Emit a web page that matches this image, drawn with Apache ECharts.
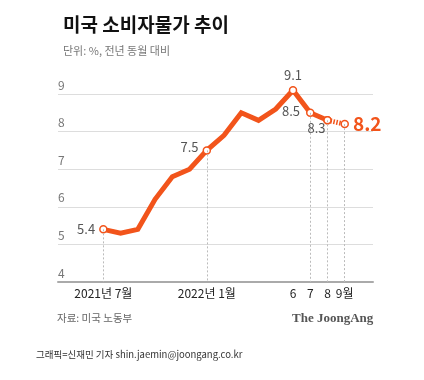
<!DOCTYPE html>
<html><head><meta charset="utf-8">
<script src="https://cdn.jsdelivr.net/npm/echarts@6/dist/echarts.min.js"></script>
<style>html,body{margin:0;padding:0;background:#fff}#c{width:424px;height:380px}</style>
</head><body><div id="c"></div>
<script>
const months = ['2021-07','2021-08','2021-09','2021-10','2021-11','2021-12','2022-01','2022-02','2022-03','2022-04','2022-05','2022-06','2022-07','2022-08','2022-09'];
const cpi = [5.4, 5.3, 5.4, 6.2, 6.8, 7.0, 7.5, 7.9, 8.5, 8.3, 8.6, 9.1, 8.5, 8.3, 8.2];
const tickIdx = [0, 6, 11, 12, 13, 14];
const tickLabels = ['2021년 7월', '2022년 1월', '6', '7', '8', '9월'];
const yTicks = [4, 5, 6, 7, 8, 9];

const ORANGE = '#f2541b';
const FONT = '"Noto Sans CJK KR", "Noto Sans", sans-serif';

const labelCfg = {
  0: {show:true, position:'left', distance:4, color:'#555', fontSize:13},
  6: {show:true, position:'left', distance:4, offset:[0,-3], color:'#555', fontSize:13},
  11: {show:true, position:'top', distance:4, color:'#555', fontSize:13},
  12: {show:true, position:'left', distance:6, offset:[0,-2], color:'#555', fontSize:13},
  13: {show:true, position:'bottom', distance:0, offset:[-11,-3], color:'#555', fontSize:13},
  14: {show:true, position:'right', distance:4, color:ORANGE, fontSize:19, fontWeight:'bold'}
};
const markIdx = [0, 6, 11, 12, 13, 14];

function pt(i) {
  const d = {value:[i, cpi[i]]};
  if (markIdx.includes(i)) {
    d.symbol = 'circle';
    d.symbolSize = 7;
    if (labelCfg[i]) d.label = Object.assign({fontFamily:FONT, formatter: p => p.value[1].toFixed(1)}, labelCfg[i]);
  } else {
    d.symbol = 'none';
  }
  return d;
}

const mainData = [];
for (let i = 0; i <= 13; i++) { const d = pt(i); if (i === 13) { d.label = {show:false}; } mainData.push(d); }
const dashData = [{value:[13, cpi[13]], symbol:'circle', symbolSize:7, label:Object.assign({fontFamily:FONT, formatter: p=>p.value[1].toFixed(1)}, labelCfg[13])}, pt(14)];

const dropLines = markIdx.map(i => [{coord:[i, cpi[i]]}, {coord:[i, 4]}]);

const chart = echarts.init(document.getElementById('c'), null, {renderer:'canvas'});
chart.setOption({
  animation:false,
  textStyle:{fontFamily:FONT},
  title:{
    text:'미국 소비자물가 추이', left:58, top:10,
    textStyle:{fontSize:19, fontWeight:'bold', color:'#111', fontFamily:FONT},
    subtext:'단위: %, 전년 동월 대비', itemGap:11,
    subtextStyle:{fontSize:11, color:'#777', fontFamily:FONT}
  },
  grid:{left:58, right:51, top:94, bottom:98, containLabel:false},
  xAxis:{
    type:'value', min:-2.63, max:15.64,
    splitLine:{show:false},
    axisLine:{show:true, lineStyle:{color:'#aaa', width:2}},
    axisTick:{show:false},
    axisLabel:{
      customValues:tickIdx, margin:5, color:'#222', fontSize:12, fontFamily:FONT,
      formatter: v => { const k = tickIdx.indexOf(Math.round(v)); return k >= 0 ? tickLabels[k] : ''; }
    }
  },
  yAxis:{
    type:'value', min:4, max:9, interval:1,
    axisLine:{show:false}, axisTick:{show:false},
    splitLine:{show:true, lineStyle:{color:'#ddd', width:1}},
    axisLabel:{
      inside:true, verticalAlign:'bottom', align:'left', margin:0, padding:[0,0,3,0],
      color:'#777', fontSize:12, fontFamily:FONT,
      customValues:yTicks,
      formatter: v => String(v)
    }
  },
  series:[
    {
      type:'line', data:[], z:1, silent:true,
      markLine:{silent:true, symbol:['none','none'], label:{show:false},
        lineStyle:{type:[2,2], color:'#bbb', width:1}, data:dropLines}
    },
    {
      type:'line', data:mainData, z:3, clip:false, showAllSymbol:true,
      lineStyle:{color:ORANGE, width:5, join:'miter'},
      itemStyle:{color:'#fff', borderColor:ORANGE, borderWidth:1.5},
      emphasis:{disabled:true}
    },
    {
      type:'line', data:dashData, z:4, clip:false, showAllSymbol:true,
      lineStyle:{color:ORANGE, width:5, type:[1.5,1.5]},
      itemStyle:{color:'#fff', borderColor:ORANGE, borderWidth:1.5},
      emphasis:{disabled:true}
    }
  ],
  graphic:[
    {type:'text', left:57, top:313, style:{text:'자료: 미국 노동부', fill:'#666', font:'10.5px '+FONT}},
    {type:'text', left:292, top:312, style:{text:'The JoongAng', fill:'#555', font:'bold 13px "Liberation Serif", "DejaVu Serif", serif'}},
    {type:'text', left:36, top:350, style:{text:'그래픽=신재민 기자 shin.jaemin@joongang.co.kr', fill:'#333', font:'9.5px '+FONT}}
  ]
});
</script></body></html>
